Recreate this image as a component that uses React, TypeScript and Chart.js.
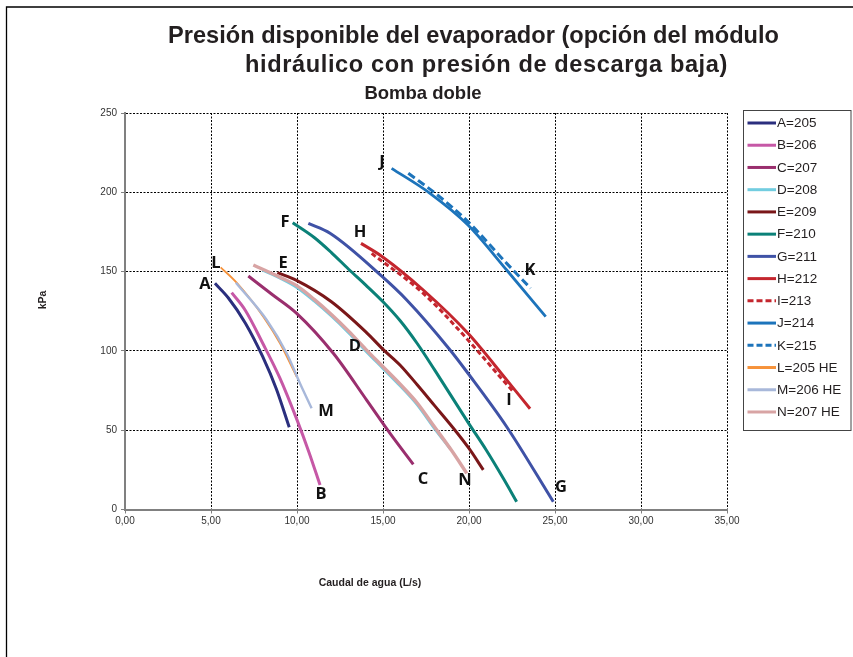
import React, { useEffect, useRef } from "react";
import { Chart, registerables } from "chart.js";

Chart.register(...registerables);

// ---------- Texts ----------
const TITLE_LINE_1 = "Presión disponible del evaporador (opción del módulo";
const TITLE_LINE_2 = "hidráulico con presión de descarga baja)";
const SUBTITLE = "Bomba doble";
const X_TITLE = "Caudal de agua (L/s)";
const Y_TITLE = "kPa";

// ---------- Tick labels ----------
const X_TICKS = ["0,00", "5,00", "10,00", "15,00", "20,00", "25,00", "30,00", "35,00"];
const Y_TICKS = ["0", "50", "100", "150", "200", "250"];

// ---------- Series ----------
const SERIES_NAMES = [
  "A=205", "B=206", "C=207", "D=208", "E=209", "F=210", "G=211",
  "H=212", "I=213", "J=214", "K=215", "L=205 HE", "M=206 HE", "N=207 HE",
];
const SERIES_LETTERS = ["A", "B", "C", "D", "E", "F", "G", "H", "I", "J", "K", "L", "M", "N"];

const A_X = [5.23, 6.0, 7.0, 8.0, 8.8, 9.55];
const A_Y = [142.6, 133.5, 117.5, 96.5, 76, 51.8];

const B_X = [6.2, 7.0, 8.0, 9.0, 10.0, 10.7, 11.34];
const B_Y = [136.7, 125.5, 105, 83, 56.5, 36, 15.4];

const C_X = [7.17, 8.5, 9.98, 12.11, 14.05, 15.41, 16.76];
const C_Y = [147.2, 136, 123.7, 98.5, 69, 48, 28.5];

const D_X = [8.0, 9.0, 10.0, 11.0, 12.0, 13.0, 14.0, 15.0, 16.0, 17.0, 18.0, 18.9];
const D_Y = [151, 146, 140, 131.5, 122, 111.5, 100, 89, 78, 66, 51, 38.5];

const E_X = [8.86, 10.0, 12.0, 14.0, 15.0, 16.0, 17.0, 18.0, 19.0, 20.0, 20.83];
const E_Y = [149.3, 144.3, 131, 112, 101, 91, 78.5, 65.5, 52.5, 38.5, 25];

const F_X = [9.75, 11.0, 12.0, 13.0, 14.0, 15.0, 16.0, 17.0, 18.0, 19.0, 20.0, 21.0, 22.0, 22.77];
const F_Y = [180.8, 171.5, 162, 151.5, 141.5, 131, 119, 104.5, 88, 71, 54, 37.5, 19.5, 4.9];

const G_X = [10.66, 11.92, 14.96, 16.38, 18.9, 19.94, 22.19, 24.9];
const G_Y = [180.4, 174.2, 146.8, 132.1, 100.6, 85.9, 52.2, 4.9];

const H_X = [13.72, 14.96, 17.34, 19.94, 22.19, 23.55];
const H_Y = [167.8, 159.4, 138.4, 111.1, 81.7, 63.5];

const I_X = [14.34, 17.34, 19.94, 21.8, 22.6];
const I_Y = [161.5, 136.3, 106.9, 83.7, 74];

const J_X = [15.5, 17.73, 19.94, 22.19, 24.46];
const J_Y = [215.1, 199.4, 179.4, 151, 121.6];

const K_X = [16.47, 18.2, 19.94, 22.19, 23.58];
const K_Y = [212, 198, 181.5, 155.2, 139.5];

const L_X = [5.56, 6.49, 8.04, 9.01, 9.98];
const L_Y = [152.7, 143, 121.6, 104.8, 83.7];

const M_X = [6.45, 8.24, 9.4, 10.17, 10.85];
const M_Y = [143, 119.5, 98.5, 79.6, 63.8];

const N_X = [7.46, 9.0, 10.0, 11.0, 12.0, 13.0, 14.0, 15.0, 16.0, 17.0, 18.0, 19.0, 19.87];
const N_Y = [154.2, 146.5, 141, 132.5, 123, 112.5, 101, 90, 79, 67, 52, 37, 22.8];

const SERIES_X = [A_X, B_X, C_X, D_X, E_X, F_X, G_X, H_X, I_X, J_X, K_X, L_X, M_X, N_X];
const SERIES_Y = [A_Y, B_Y, C_Y, D_Y, E_Y, F_Y, G_Y, H_Y, I_Y, J_Y, K_Y, L_Y, M_Y, N_Y];

// Letter annotation positions (data units)
const LETTER_X = [4.65, 11.4, 17.33, 13.37, 9.19, 9.3, 25.35, 13.66, 22.33, 14.94, 23.55, 5.29, 11.69, 19.77];
const LETTER_Y = [142.2, 9.8, 19.2, 103.1, 155.4, 181.3, 14.2, 175, 69, 219.1, 151, 155.4, 62.1, 18.6];

// ---------- Styles ----------
const COLORS = [
  "#2B2F7E", "#C658A6", "#9A2F6E", "#72CDE0", "#7A1719", "#0B8178", "#3F52A6",
  "#C4262E", "#C4262E", "#1D74BB", "#1D74BB", "#F6923A", "#A8B8DA", "#D8A4A4",
];
const WIDTHS = [3, 3, 3, 3, 3, 3, 3, 3, 3, 2.8, 3, 1.8, 2.4, 3.4];
const DASHES: number[][] = [[], [], [], [], [], [], [], [], [5, 3], [], [8, 4], [], [], []];

const FONT = '"Liberation Sans", Arial, Helvetica, sans-serif';

const decorPlugin = {
  id: "decor",
  afterDraw(chart: any) {
    const ctx: any = chart.ctx;
    const xs = chart.scales.x;
    const ys = chart.scales.y;
    ctx.save();

    // figure frame (left + top only visible)
    ctx.strokeStyle = "#000";
    ctx.lineWidth = 1.3;
    ctx.beginPath();
    ctx.moveTo(6.5, 660);
    ctx.lineTo(6.5, 7);
    ctx.lineTo(860, 7);
    ctx.stroke();

    // titles
    ctx.fillStyle = "#231F20";
    ctx.textAlign = "center";
    ctx.textBaseline = "alphabetic";
    ctx.font = `bold 23.6px ${FONT}`;
    ctx.fillText(TITLE_LINE_1, 473.5, 43);
    ctx.letterSpacing = "0.6px";
    ctx.fillText(TITLE_LINE_2, 486.5, 72);
    ctx.letterSpacing = "0px";
    ctx.font = `bold 18.5px ${FONT}`;
    ctx.fillText(SUBTITLE, 423, 99);

    // axis titles
    ctx.font = `bold 10.5px ${FONT}`;
    ctx.textBaseline = "middle";
    ctx.fillText(X_TITLE, 370, 583);
    ctx.save();
    ctx.translate(43, 300);
    ctx.rotate(-Math.PI / 2);
    ctx.fillText(Y_TITLE, 0, 0);
    ctx.restore();

    // curve letters
    ctx.font = `bold 16.5px "Open Sans", ${FONT}`;
    ctx.fillStyle = "#111";
    ctx.textAlign = "center";
    ctx.textBaseline = "middle";
    for (let i = 0; i < SERIES_LETTERS.length; i++) {
      ctx.fillText(
        SERIES_LETTERS[i],
        xs.getPixelForValue(LETTER_X[i]),
        ys.getPixelForValue(LETTER_Y[i])
      );
    }

    // legend
    const lx = 743.5, ly = 110.5, lw = 107.5, lh = 320;
    ctx.strokeStyle = "#444";
    ctx.lineWidth = 1;
    ctx.setLineDash([]);
    ctx.strokeRect(lx, ly, lw, lh);
    ctx.font = `13.5px ${FONT}`;
    ctx.textAlign = "left";
    ctx.fillStyle = "#231F20";
    for (let i = 0; i < SERIES_NAMES.length; i++) {
      const y = 123 + i * 22.23;
      ctx.strokeStyle = COLORS[i];
      ctx.lineWidth = 3;
      ctx.setLineDash(DASHES[i].length ? [6, 3] : []);
      ctx.beginPath();
      ctx.moveTo(747.5, y);
      ctx.lineTo(776, y);
      ctx.stroke();
      ctx.fillText(SERIES_NAMES[i], 777, y + 0.5);
    }
    ctx.restore();
  },
};

export default function App() {
  const ref = useRef<HTMLCanvasElement | null>(null);

  useEffect(() => {
    if (!ref.current) return;
    const datasets = SERIES_NAMES.map((name, i) => ({
      label: name,
      data: SERIES_X[i].map((x, j) => ({ x, y: SERIES_Y[i][j] })),
      borderColor: COLORS[i],
      backgroundColor: COLORS[i],
      borderWidth: WIDTHS[i],
      borderDash: DASHES[i],
      showLine: true,
      pointRadius: 0,
      pointHoverRadius: 0,
      cubicInterpolationMode: "monotone",
      fill: false,
      order: SERIES_NAMES.length - i,
    }));

    const chart = new Chart(ref.current, {
      type: "scatter",
      data: { datasets },
      options: {
        animation: false,
        responsive: false,
        devicePixelRatio: 1,
        layout: { padding: { left: 85, top: 113, right: 126, bottom: 117.5 } },
        plugins: {
          legend: { display: false },
          title: { display: false },
          tooltip: { enabled: false },
        },
        scales: {
          x: {
            type: "linear",
            min: 0,
            max: 35,
            afterFit: (s: any) => {
              s.height = 30;
            },
            ticks: {
              stepSize: 5,
              autoSkip: false,
              maxRotation: 0,
              padding: 2,
              color: "#333",
              font: { family: FONT, size: 10 },
              callback: (_v: any, idx: number) => X_TICKS[idx],
            },
            grid: {
              color: "#000",
              lineWidth: 1,
              tickLength: 4,
              tickColor: "#808080",
              tickBorderDash: [],
            },
            border: { display: true, color: "#808080", width: 2, dash: [2, 1.5] },
          },
          y: {
            type: "linear",
            min: 0,
            max: 250,
            afterFit: (s: any) => {
              s.width = 40;
            },
            ticks: {
              stepSize: 50,
              autoSkip: false,
              padding: 4,
              color: "#333",
              font: { family: FONT, size: 10 },
              callback: (_v: any, idx: number) => Y_TICKS[idx],
            },
            grid: {
              color: "#000",
              lineWidth: 1,
              tickLength: 4,
              tickColor: "#808080",
              tickBorderDash: [],
            },
            border: { display: true, color: "#808080", width: 2, dash: [2, 1.5] },
          },
        },
      },
      plugins: [decorPlugin],
    } as any);

    return () => chart.destroy();
  }, []);

  return (
    <div
      style={{
        position: "fixed",
        left: 0,
        top: 0,
        width: 853,
        height: 657,
        background: "#fff",
        overflow: "hidden",
      }}
    >
      <canvas ref={ref} width={853} height={657} style={{ display: "block" }} />
    </div>
  );
}
